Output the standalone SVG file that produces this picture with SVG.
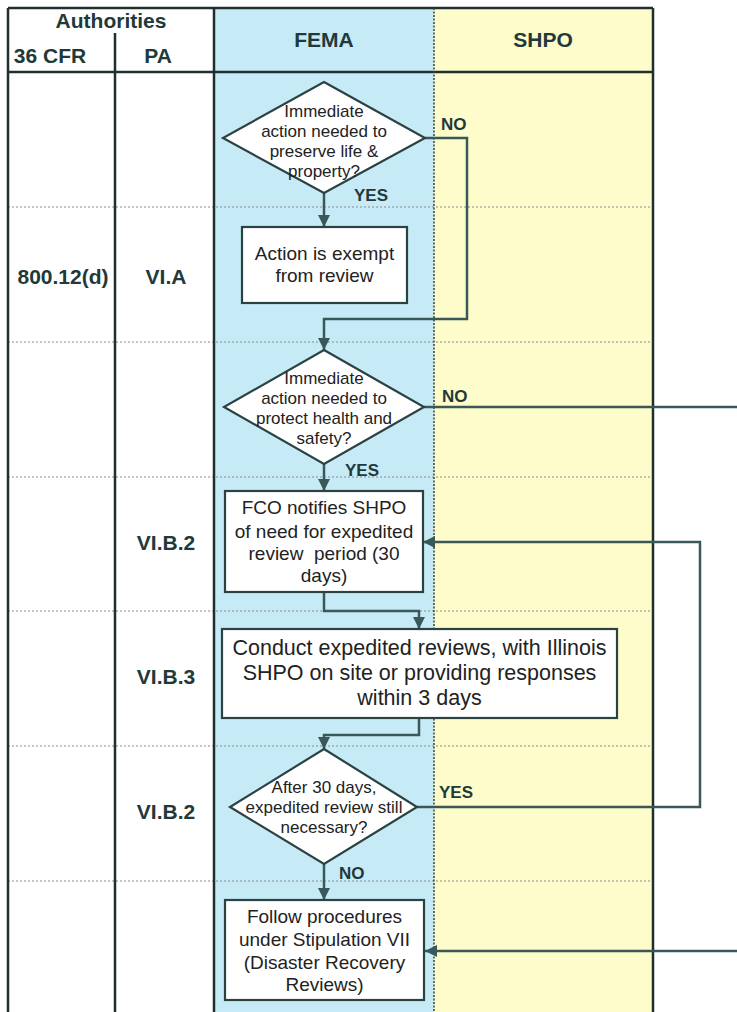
<svg xmlns="http://www.w3.org/2000/svg" width="737" height="1012" viewBox="0 0 737 1012">
  <defs>
    <style>
      .hdr { font-family: "Liberation Sans", Arial, sans-serif; font-weight: bold; font-size: 21px; fill: #22393a; text-anchor: middle; }
      .auth { font-family: "Liberation Sans", Arial, sans-serif; font-weight: bold; font-size: 21px; fill: #22393a; text-anchor: middle; }
      .lbl { font-family: "Liberation Sans", Arial, sans-serif; font-weight: bold; font-size: 17px; fill: #22393a; }
      .dtxt { font-family: "Liberation Sans", Arial, sans-serif; font-size: 17px; fill: #222; text-anchor: middle; }
      .btxt { font-family: "Liberation Sans", Arial, sans-serif; font-size: 19px; fill: #222; text-anchor: middle; }
      .btxt-l { font-family: "Liberation Sans", Arial, sans-serif; font-size: 21.5px; fill: #222; text-anchor: middle; }
      .box { fill: #ffffff; stroke: #2b4242; stroke-width: 2.2; }
      .frame { stroke: #1f2f30; stroke-width: 2.5; fill: none; }
      .rowline { stroke: #8c8c8c; stroke-width: 1.2; stroke-dasharray: 2 2; }
      .conn { fill: none; stroke: #3a5858; stroke-width: 2.5; marker-end: none; }
      .arr { marker-end: url(#head); }
    </style>
    <marker id="head" viewBox="0 0 12 12" refX="12" refY="6" markerWidth="12" markerHeight="13" markerUnits="userSpaceOnUse" orient="auto">
      <path d="M0,0 L12,6 L0,12 z" fill="#3a5858"/>
    </marker>
  </defs>

  <rect width="737" height="1012" fill="#ffffff"/>

  <!-- swimlane backgrounds -->
  <g id="lanes">
    <rect x="214" y="8" width="220" height="1004" fill="#c7eaf7"/>
    <rect x="434" y="8" width="219" height="1004" fill="#fdfcca"/>
  </g>

  <!-- row separators -->
  <g id="rows">
    <line class="rowline" x1="8" y1="207" x2="653" y2="207"/>
    <line class="rowline" x1="8" y1="342" x2="653" y2="342"/>
    <line class="rowline" x1="8" y1="477" x2="653" y2="477"/>
    <line class="rowline" x1="8" y1="611" x2="653" y2="611"/>
    <line class="rowline" x1="8" y1="746" x2="653" y2="746"/>
    <line class="rowline" x1="8" y1="881" x2="653" y2="881"/>
  </g>

  <!-- table frame -->
  <g id="frame">
    <line class="frame" x1="8" y1="8" x2="653" y2="8"/>
    <line class="frame" x1="8" y1="72" x2="653" y2="72"/>
    <line class="frame" x1="8" y1="8" x2="8" y2="1012"/>
    <line class="frame" x1="115" y1="33" x2="115" y2="1012"/>
    <line class="frame" x1="214" y1="8" x2="214" y2="1012"/>
    <line class="frame" x1="653" y1="8" x2="653" y2="1012"/>
    <line x1="434" y1="8" x2="434" y2="1012" stroke="#2f4444" stroke-width="1.5" stroke-dasharray="2 1.5"/>
  </g>

  <!-- header -->
  <g id="header">
    <text class="auth" x="111" y="28">Authorities</text>
    <text class="auth" x="50" y="63">36 CFR</text>
    <text class="auth" x="158" y="63">PA</text>
    <text class="hdr" x="324" y="47">FEMA</text>
    <text class="hdr" x="543" y="47">SHPO</text>
  </g>

  <!-- authority references -->
  <g id="refs">
    <text class="auth" x="63" y="284">800.12(d)</text>
    <text class="auth" x="166" y="284">VI.A</text>
    <text class="auth" x="166" y="550">VI.B.2</text>
    <text class="auth" x="166" y="684">VI.B.3</text>
    <text class="auth" x="166" y="819">VI.B.2</text>
  </g>

  <!-- connectors -->
  <g id="connectors">
    <path class="conn arr" d="M324,193 V227"/>
    <path class="conn arr" d="M425,138 H467 V319 H324 V350"/>
    <path class="conn arr" d="M324,464 V491"/>
    <path class="conn" d="M424,407 H737"/>
    <path class="conn arr" d="M324,592 V611 H419 V629"/>
    <path class="conn arr" d="M419,718 V735 H324 V749"/>
    <path class="conn arr" d="M417,807 H700 V542 H423"/>
    <path class="conn arr" d="M324,864 V900"/>
    <path class="conn arr" d="M737,951 H425"/>
  </g>

  <!-- connector labels -->
  <g id="labels">
    <text class="lbl" x="441" y="130">NO</text>
    <text class="lbl" x="354" y="201">YES</text>
    <text class="lbl" x="442" y="402">NO</text>
    <text class="lbl" x="345" y="476">YES</text>
    <text class="lbl" x="439" y="798">YES</text>
    <text class="lbl" x="339" y="879">NO</text>
  </g>

  <g id="d-preserve">
    <polygon class="box" points="324,82 425,138 324,193 223,138"/>
    <text class="dtxt" x="324" y="117">Immediate</text>
    <text class="dtxt" x="324" y="137">action needed to</text>
    <text class="dtxt" x="324" y="157">preserve life &amp;</text>
    <text class="dtxt" x="324" y="177">property?</text>
  </g>

  <g id="n-exempt">
    <rect class="box" x="242" y="227" width="165" height="76"/>
    <text class="btxt" x="324.5" y="260">Action is exempt</text>
    <text class="btxt" x="324.5" y="282">from review</text>
  </g>

  <g id="d-protect">
    <polygon class="box" points="324,350 424,407 324,464 224,407"/>
    <text class="dtxt" x="324" y="384">Immediate</text>
    <text class="dtxt" x="324" y="404">action needed to</text>
    <text class="dtxt" x="324" y="424">protect health and</text>
    <text class="dtxt" x="324" y="444">safety?</text>
  </g>

  <g id="n-notify">
    <rect class="box" x="225" y="491" width="198" height="101"/>
    <text class="btxt" x="324" y="514">FCO notifies SHPO</text>
    <text class="btxt" x="324" y="538">of need for expedited</text>
    <text class="btxt" x="324" y="560" style="white-space:pre">review  period (30</text>
    <text class="btxt" x="324" y="582">days)</text>
  </g>

  <g id="n-conduct">
    <rect class="box" x="222" y="629" width="395" height="89"/>
    <text class="btxt-l" x="419.5" y="655">Conduct expedited reviews, with Illinois</text>
    <text class="btxt-l" x="419.5" y="680">SHPO on site or providing responses</text>
    <text class="btxt-l" x="419.5" y="705">within 3 days</text>
  </g>

  <g id="d-after30">
    <polygon class="box" points="324,749 417,807 324,864 230,807"/>
    <text class="dtxt" x="324" y="793">After 30 days,</text>
    <text class="dtxt" x="324" y="813">expedited review still</text>
    <text class="dtxt" x="324" y="833">necessary?</text>
  </g>

  <g id="n-follow">
    <rect class="box" x="225" y="900" width="199" height="100"/>
    <text class="btxt" x="324.5" y="923">Follow procedures</text>
    <text class="btxt" x="324.5" y="946">under Stipulation VII</text>
    <text class="btxt" x="324.5" y="969">(Disaster Recovery</text>
    <text class="btxt" x="324.5" y="991">Reviews)</text>
  </g>
</svg>
